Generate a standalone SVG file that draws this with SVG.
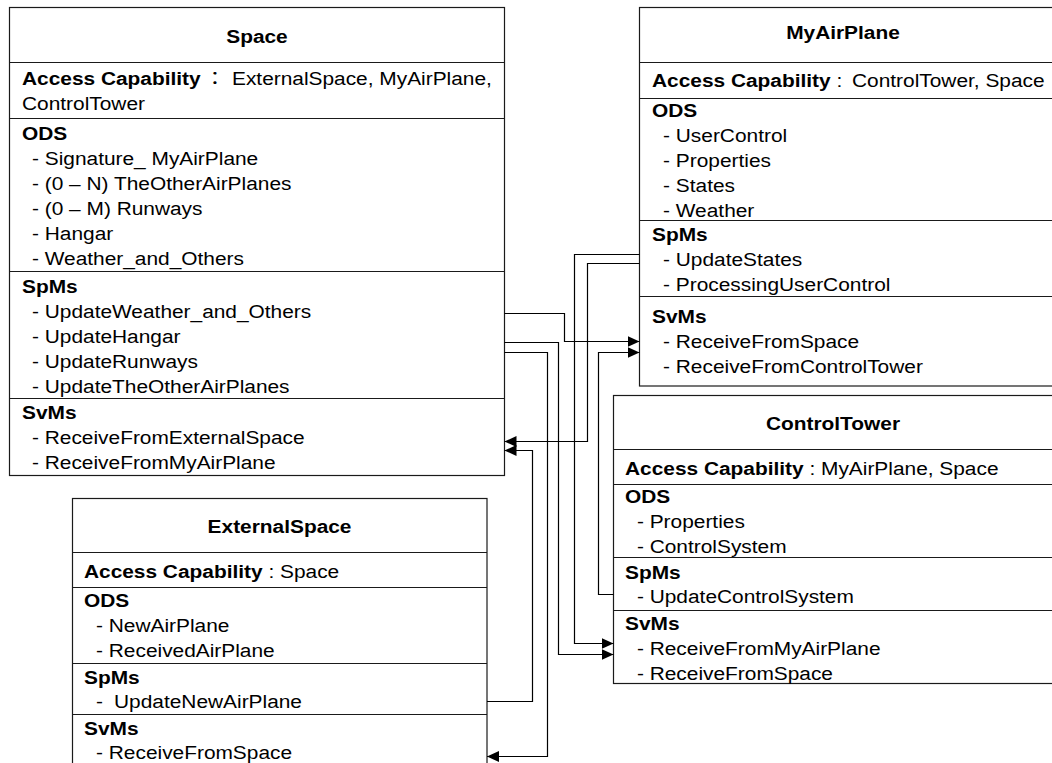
<svg xmlns="http://www.w3.org/2000/svg" width="1052" height="763" viewBox="0 0 1052 763">
<style>
.box{fill:#fff;stroke:#1a1a1a;stroke-width:1.2}
.dv{stroke:#1a1a1a;stroke-width:1.2;fill:none}
.t{font-family:"Liberation Sans",Arial,Helvetica,sans-serif;font-size:18px;fill:#000}
.b{font-weight:bold}
.m{text-anchor:middle}
.cj{font-family:"Noto Sans CJK JP","Noto Sans CJK SC",sans-serif;font-size:18px;fill:#000}
.c{fill:none;stroke:#000;stroke-width:1.2}
</style>
<defs>
<marker id="arr" markerUnits="userSpaceOnUse" markerWidth="12" markerHeight="11" refX="12" refY="5.5" orient="auto">
<path d="M0,0 L12,5.5 L0,11 Z" fill="#000"/>
</marker>
</defs>

<g id="space">
<rect class="box" x="9.5" y="7.5" width="495" height="468"/>
<path class="dv" d="M9.5,62.5H504.5M9.5,118.5H504.5M9.5,271.5H504.5M9.5,398.5H504.5"/>
<g transform="scale(1.16 1)" class="t">
<text class="t b m" x="221.55" y="43">Space</text>
<text class="t b" x="18.97" y="85">Access Capability</text>
<text class="cj" x="176.4" y="85">：</text>
<text class="t" x="200" y="85">ExternalSpace, MyAirPlane,</text>
<text class="t" x="18.97" y="110">ControlTower</text>
<text class="t b" x="18.97" y="140">ODS</text>
<text class="t" x="27.59" y="165">- Signature_ MyAirPlane</text>
<text class="t" x="27.59" y="190">- (0 – N) TheOtherAirPlanes</text>
<text class="t" x="27.59" y="215">- (0 – M) Runways</text>
<text class="t" x="27.59" y="240">- Hangar</text>
<text class="t" x="27.59" y="265">- Weather_and_Others</text>
<text class="t b" x="18.97" y="293">SpMs</text>
<text class="t" x="27.59" y="318">- UpdateWeather_and_Others</text>
<text class="t" x="27.59" y="343">- UpdateHangar</text>
<text class="t" x="27.59" y="368">- UpdateRunways</text>
<text class="t" x="27.59" y="393">- UpdateTheOtherAirPlanes</text>
<text class="t b" x="18.97" y="419">SvMs</text>
<text class="t" x="27.59" y="444">- ReceiveFromExternalSpace</text>
<text class="t" x="27.59" y="469">- ReceiveFromMyAirPlane</text>
</g>
</g>

<g id="myairplane">
<rect class="box" x="639.5" y="7.5" width="430" height="378.5"/>
<path class="dv" d="M639.5,62.5H1070M639.5,98.5H1070M639.5,220.5H1070M639.5,296.5H1070"/>
<g transform="scale(1.16 1)">
<text class="t b m" x="726.7" y="39">MyAirPlane</text>
<text class="t" x="562.1" y="87"><tspan class="b">Access Capability</tspan> :<tspan x="734.5">ControlTower, Space</tspan></text>
<text class="t b" x="562.1" y="117">ODS</text>
<text class="t" x="571.6" y="142">- UserControl</text>
<text class="t" x="571.6" y="167">- Properties</text>
<text class="t" x="571.6" y="192">- States</text>
<text class="t" x="571.6" y="217">- Weather</text>
<text class="t b" x="562.1" y="241">SpMs</text>
<text class="t" x="571.6" y="266">- UpdateStates</text>
<text class="t" x="571.6" y="291">- ProcessingUserControl</text>
<text class="t b" x="562.1" y="323">SvMs</text>
<text class="t" x="571.6" y="348">- ReceiveFromSpace</text>
<text class="t" x="571.6" y="373">- ReceiveFromControlTower</text>
</g>
</g>

<g id="controltower">
<rect class="box" x="613.5" y="395.5" width="460" height="288"/>
<path class="dv" d="M613.5,449.5H1075M613.5,484.5H1075M613.5,557.5H1075M613.5,610.5H1075"/>
<g transform="scale(1.16 1)">
<text class="t b m" x="718.1" y="430">ControlTower</text>
<text class="t" x="538.8" y="475"><tspan class="b">Access Capability</tspan> : MyAirPlane, Space</text>
<text class="t b" x="538.8" y="503">ODS</text>
<text class="t" x="549.1" y="528">- Properties</text>
<text class="t" x="549.1" y="553">- ControlSystem</text>
<text class="t b" x="538.8" y="579">SpMs</text>
<text class="t" x="549.1" y="603">- UpdateControlSystem</text>
<text class="t b" x="538.8" y="630">SvMs</text>
<text class="t" x="549.1" y="655">- ReceiveFromMyAirPlane</text>
<text class="t" x="549.1" y="680">- ReceiveFromSpace</text>
</g>
</g>

<g id="externalspace">
<rect class="box" x="72.5" y="498.5" width="414.5" height="300"/>
<path class="dv" d="M72.5,552.5H487M72.5,587.5H487M72.5,663.5H487M72.5,714.5H487"/>
<g transform="scale(1.16 1)">
<text class="t b m" x="241" y="533">ExternalSpace</text>
<text class="t" x="72.4" y="578"><tspan class="b">Access Capability</tspan> : Space</text>
<text class="t b" x="72.4" y="607">ODS</text>
<text class="t" x="82.8" y="632">- NewAirPlane</text>
<text class="t" x="82.8" y="657">- ReceivedAirPlane</text>
<text class="t b" x="72.4" y="684">SpMs</text>
<text class="t" x="82.8" y="708">-<tspan x="98.3">UpdateNewAirPlane</tspan></text>
<text class="t b" x="72.4" y="735">SvMs</text>
<text class="t" x="82.8" y="759">- ReceiveFromSpace</text>
</g>
</g>

<g id="connectors">
<path class="c" d="M504.5,313.5H564.5V341.5H639.5" marker-end="url(#arr)"/>
<path class="c" d="M504.5,342.5H558.5V654.5H613.5" marker-end="url(#arr)"/>
<path class="c" d="M504.5,352.5H547.5V756.5H487" marker-end="url(#arr)"/>
<path class="c" d="M639.5,254.5H574.5V643.5H613.5" marker-end="url(#arr)"/>
<path class="c" d="M639.5,263.5H587.5V441.5H504.5" marker-end="url(#arr)"/>
<path class="c" d="M613.5,594.5H598.5V352.5H639.5" marker-end="url(#arr)"/>
<path class="c" d="M487,701.5H532.5V450.5H504.5" marker-end="url(#arr)"/>
</g>
</svg>
